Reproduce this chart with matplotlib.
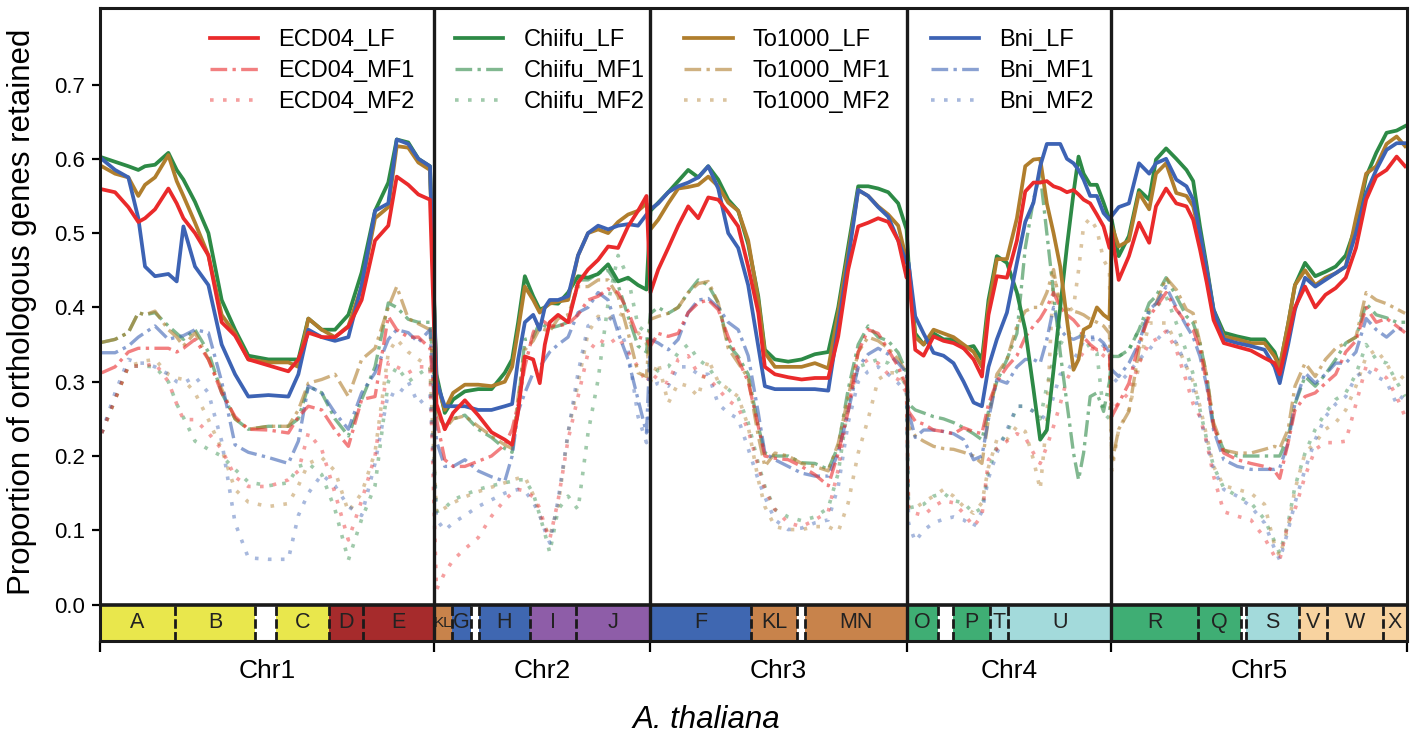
import numpy as np
import matplotlib
matplotlib.use('Agg')
import matplotlib.pyplot as plt
from matplotlib.patches import Rectangle

plt.rcParams['font.family'] = ['Liberation Sans', 'DejaVu Sans']

# chromosome names and lengths (Mb)
CHR_NAMES = ['Chr1', 'Chr2', 'Chr3', 'Chr4', 'Chr5']
CHR_LEN = [30.43, 19.70, 23.46, 18.59, 26.98]

# window positions inside each chromosome (Mb)
POS = [
    [0.15, 1.37, 2.58, 3.49, 4.10, 5.01, 6.23, 6.99, 7.60, 8.66, 9.88, 11.09, 12.31, 13.52,
     15.35, 17.17, 18.08, 18.99, 20.21, 21.42, 22.64, 23.85, 25.07, 26.28, 27.05, 28.10, 29.02, 30.08],
    [0.24, 1.00, 1.76, 2.83, 4.04, 5.26, 6.47, 7.14, 7.69, 8.30, 9.06, 9.66, 10.12, 10.57,
     11.33, 12.24, 13.15, 14.06, 14.98, 15.89, 16.80, 17.71, 18.62, 19.39],
    [0.05, 0.76, 1.67, 2.58, 3.49, 4.41, 5.32, 6.23, 7.14, 8.05, 8.96, 9.88, 10.48, 11.40,
     12.61, 13.83, 15.04, 16.26, 17.17, 18.08, 18.99, 19.90, 20.81, 21.73, 22.64, 23.40],
    [0.12, 0.73, 1.49, 2.40, 3.31, 4.22, 5.14, 6.05, 6.81, 7.41, 8.17, 9.09, 10.00, 10.76,
     11.51, 12.12, 12.73, 13.34, 13.95, 14.56, 15.16, 15.62, 16.08, 16.68, 17.29, 17.90, 18.44],
    [0.05, 0.69, 1.62, 2.54, 3.47, 4.09, 5.01, 5.94, 6.87, 7.48, 8.10, 8.72, 9.34, 10.27,
     11.50, 12.74, 13.98, 14.90, 15.37, 16.14, 16.76, 17.68, 18.61, 19.54, 20.47, 21.39,
     22.32, 23.25, 24.17, 25.11, 26.03, 26.80],
]

ECD04_LF = [
    [0.559, 0.555, 0.535, 0.515, 0.52, 0.532, 0.56, 0.54, 0.52, 0.50, 0.47, 0.38, 0.362, 0.33, 0.322, 0.314, 0.33, 0.366, 0.36, 0.36, 0.374, 0.41, 0.49, 0.51, 0.576, 0.565, 0.552, 0.545],
    [0.27, 0.236, 0.258, 0.275, 0.255, 0.232, 0.222, 0.215, 0.26, 0.334, 0.33, 0.298, 0.35, 0.38, 0.39, 0.38, 0.433, 0.451, 0.464, 0.482, 0.48, 0.509, 0.53, 0.55],
    [0.42, 0.451, 0.48, 0.51, 0.536, 0.52, 0.548, 0.545, 0.528, 0.509, 0.455, 0.393, 0.32, 0.31, 0.306, 0.303, 0.305, 0.305, 0.361, 0.451, 0.509, 0.514, 0.52, 0.515, 0.49, 0.44],
    [0.45, 0.343, 0.335, 0.361, 0.355, 0.352, 0.345, 0.33, 0.307, 0.39, 0.442, 0.44, 0.49, 0.556, 0.568, 0.568, 0.57, 0.563, 0.56, 0.555, 0.558, 0.552, 0.545, 0.54, 0.525, 0.509, 0.48],
    [0.50, 0.437, 0.469, 0.514, 0.487, 0.536, 0.56, 0.54, 0.536, 0.518, 0.478, 0.433, 0.383, 0.352, 0.347, 0.342, 0.332, 0.325, 0.31, 0.36, 0.40, 0.428, 0.40, 0.417, 0.426, 0.44, 0.48, 0.545, 0.576, 0.585, 0.603, 0.59],
]
Chiifu_LF = [
    [0.602, 0.596, 0.59, 0.585, 0.59, 0.592, 0.608, 0.585, 0.572, 0.542, 0.50, 0.41, 0.37, 0.335, 0.33, 0.33, 0.33, 0.385, 0.37, 0.37, 0.39, 0.447, 0.53, 0.568, 0.626, 0.622, 0.60, 0.59],
    [0.31, 0.258, 0.276, 0.287, 0.29, 0.29, 0.312, 0.33, 0.38, 0.442, 0.415, 0.397, 0.40, 0.406, 0.405, 0.42, 0.442, 0.44, 0.445, 0.458, 0.435, 0.44, 0.43, 0.424],
    [0.53, 0.541, 0.555, 0.57, 0.585, 0.575, 0.59, 0.572, 0.545, 0.53, 0.485, 0.415, 0.343, 0.33, 0.327, 0.33, 0.337, 0.34, 0.40, 0.482, 0.563, 0.563, 0.56, 0.555, 0.54, 0.505],
    [0.46, 0.365, 0.35, 0.365, 0.357, 0.357, 0.345, 0.348, 0.33, 0.41, 0.469, 0.46, 0.42, 0.37, 0.29, 0.222, 0.235, 0.316, 0.40, 0.482, 0.554, 0.603, 0.58, 0.565, 0.565, 0.541, 0.518],
    [0.518, 0.469, 0.496, 0.558, 0.545, 0.599, 0.614, 0.60, 0.585, 0.57, 0.509, 0.455, 0.397, 0.366, 0.361, 0.357, 0.357, 0.34, 0.32, 0.378, 0.43, 0.46, 0.442, 0.448, 0.455, 0.47, 0.51, 0.576, 0.608, 0.635, 0.638, 0.644],
]
To1000_LF = [
    [0.59, 0.58, 0.575, 0.55, 0.565, 0.575, 0.605, 0.57, 0.55, 0.514, 0.47, 0.39, 0.365, 0.33, 0.326, 0.326, 0.32, 0.385, 0.37, 0.36, 0.375, 0.428, 0.52, 0.535, 0.617, 0.615, 0.595, 0.585],
    [0.30, 0.262, 0.285, 0.296, 0.296, 0.294, 0.30, 0.32, 0.37, 0.428, 0.41, 0.393, 0.40, 0.405, 0.408, 0.41, 0.47, 0.50, 0.505, 0.50, 0.515, 0.525, 0.53, 0.54],
    [0.505, 0.518, 0.54, 0.56, 0.562, 0.565, 0.576, 0.563, 0.541, 0.53, 0.49, 0.41, 0.339, 0.32, 0.32, 0.32, 0.325, 0.318, 0.393, 0.473, 0.558, 0.55, 0.536, 0.525, 0.51, 0.464],
    [0.45, 0.36, 0.35, 0.37, 0.365, 0.36, 0.35, 0.34, 0.32, 0.40, 0.465, 0.465, 0.52, 0.59, 0.599, 0.60, 0.54, 0.50, 0.455, 0.384, 0.316, 0.33, 0.37, 0.375, 0.40, 0.39, 0.384],
    [0.51, 0.482, 0.49, 0.554, 0.532, 0.58, 0.594, 0.554, 0.55, 0.536, 0.496, 0.45, 0.393, 0.361, 0.357, 0.352, 0.352, 0.334, 0.32, 0.378, 0.43, 0.45, 0.43, 0.44, 0.446, 0.455, 0.52, 0.58, 0.59, 0.62, 0.63, 0.617],
]
Bni_LF = [
    [0.60, 0.585, 0.575, 0.52, 0.455, 0.442, 0.445, 0.435, 0.509, 0.455, 0.43, 0.35, 0.31, 0.28, 0.282, 0.28, 0.31, 0.37, 0.36, 0.355, 0.36, 0.43, 0.53, 0.54, 0.626, 0.62, 0.60, 0.59],
    [0.30, 0.267, 0.267, 0.267, 0.262, 0.262, 0.267, 0.27, 0.33, 0.38, 0.39, 0.37, 0.40, 0.41, 0.41, 0.415, 0.47, 0.50, 0.51, 0.505, 0.51, 0.512, 0.51, 0.525],
    [0.532, 0.54, 0.555, 0.563, 0.568, 0.575, 0.59, 0.56, 0.50, 0.48, 0.43, 0.348, 0.294, 0.29, 0.29, 0.29, 0.29, 0.288, 0.375, 0.464, 0.558, 0.55, 0.535, 0.522, 0.49, 0.46],
    [0.46, 0.388, 0.365, 0.339, 0.335, 0.325, 0.30, 0.272, 0.267, 0.32, 0.357, 0.393, 0.46, 0.515, 0.541, 0.59, 0.62, 0.62, 0.62, 0.60, 0.594, 0.585, 0.572, 0.55, 0.55, 0.527, 0.518],
    [0.523, 0.535, 0.54, 0.594, 0.58, 0.594, 0.60, 0.572, 0.563, 0.545, 0.50, 0.45, 0.397, 0.357, 0.352, 0.348, 0.343, 0.32, 0.298, 0.35, 0.397, 0.44, 0.428, 0.437, 0.446, 0.455, 0.50, 0.554, 0.585, 0.612, 0.621, 0.621],
]
ECD04_MF1 = [
    [0.312, 0.32, 0.34, 0.345, 0.345, 0.345, 0.345, 0.34, 0.345, 0.357, 0.33, 0.285, 0.253, 0.236, 0.235, 0.231, 0.253, 0.267, 0.262, 0.235, 0.213, 0.276, 0.28, 0.388, 0.37, 0.36, 0.36, 0.345],
    [0.25, 0.195, 0.186, 0.186, 0.193, 0.2, 0.215, 0.236, 0.27, 0.32, 0.366, 0.385, 0.38, 0.375, 0.375, 0.378, 0.39, 0.41, 0.415, 0.425, 0.42, 0.395, 0.36, 0.357],
    [0.348, 0.365, 0.361, 0.365, 0.393, 0.406, 0.41, 0.397, 0.36, 0.33, 0.30, 0.24, 0.2, 0.197, 0.195, 0.186, 0.175, 0.16, 0.204, 0.26, 0.34, 0.37, 0.365, 0.343, 0.32, 0.294],
    [0.26, 0.247, 0.243, 0.235, 0.233, 0.23, 0.238, 0.233, 0.23, 0.27, 0.30, 0.32, 0.335, 0.36, 0.375, 0.385, 0.40, 0.42, 0.40, 0.39, 0.383, 0.375, 0.36, 0.35, 0.343, 0.345, 0.337],
    [0.253, 0.271, 0.298, 0.352, 0.388, 0.40, 0.42, 0.397, 0.379, 0.37, 0.343, 0.298, 0.24, 0.204, 0.195, 0.19, 0.186, 0.18, 0.17, 0.218, 0.262, 0.28, 0.285, 0.298, 0.31, 0.34, 0.355, 0.40, 0.38, 0.385, 0.375, 0.366],
]
Chiifu_MF1 = [
    [0.353, 0.357, 0.366, 0.393, 0.39, 0.393, 0.375, 0.365, 0.357, 0.37, 0.34, 0.285, 0.25, 0.236, 0.24, 0.24, 0.25, 0.294, 0.285, 0.25, 0.227, 0.276, 0.32, 0.406, 0.40, 0.384, 0.38, 0.38],
    [0.26, 0.24, 0.25, 0.255, 0.236, 0.225, 0.21, 0.205, 0.27, 0.357, 0.36, 0.38, 0.375, 0.372, 0.375, 0.38, 0.437, 0.437, 0.446, 0.45, 0.43, 0.388, 0.348, 0.34],
    [0.392, 0.40, 0.392, 0.40, 0.42, 0.437, 0.43, 0.406, 0.35, 0.334, 0.31, 0.24, 0.204, 0.2, 0.2, 0.191, 0.19, 0.182, 0.213, 0.29, 0.35, 0.375, 0.36, 0.355, 0.339, 0.312],
    [0.27, 0.262, 0.258, 0.253, 0.25, 0.245, 0.238, 0.23, 0.222, 0.26, 0.30, 0.33, 0.365, 0.48, 0.545, 0.58, 0.50, 0.42, 0.339, 0.271, 0.204, 0.168, 0.204, 0.28, 0.285, 0.26, 0.30],
    [0.334, 0.334, 0.343, 0.37, 0.406, 0.415, 0.44, 0.415, 0.388, 0.379, 0.352, 0.307, 0.24, 0.208, 0.2, 0.2, 0.2, 0.2, 0.2, 0.226, 0.27, 0.307, 0.294, 0.31, 0.33, 0.352, 0.36, 0.405, 0.39, 0.386, 0.38, 0.38],
]
To1000_MF1 = [
    [0.353, 0.357, 0.366, 0.393, 0.39, 0.395, 0.37, 0.36, 0.348, 0.366, 0.33, 0.29, 0.25, 0.236, 0.24, 0.24, 0.262, 0.298, 0.303, 0.31, 0.28, 0.33, 0.345, 0.40, 0.428, 0.385, 0.378, 0.37],
    [0.26, 0.236, 0.25, 0.254, 0.24, 0.227, 0.215, 0.21, 0.28, 0.343, 0.355, 0.372, 0.37, 0.368, 0.385, 0.39, 0.428, 0.428, 0.437, 0.437, 0.415, 0.366, 0.312, 0.307],
    [0.384, 0.388, 0.392, 0.40, 0.42, 0.432, 0.435, 0.406, 0.345, 0.325, 0.305, 0.227, 0.186, 0.204, 0.2, 0.19, 0.186, 0.18, 0.217, 0.28, 0.34, 0.36, 0.355, 0.345, 0.33, 0.312],
    [0.24, 0.227, 0.22, 0.213, 0.21, 0.209, 0.205, 0.2, 0.19, 0.25, 0.31, 0.33, 0.375, 0.395, 0.40, 0.40, 0.42, 0.451, 0.40, 0.398, 0.395, 0.393, 0.39, 0.384, 0.38, 0.375, 0.365],
    [0.19, 0.236, 0.26, 0.343, 0.397, 0.405, 0.44, 0.424, 0.397, 0.392, 0.352, 0.307, 0.245, 0.208, 0.204, 0.204, 0.209, 0.213, 0.21, 0.236, 0.294, 0.325, 0.307, 0.33, 0.345, 0.352, 0.36, 0.42, 0.41, 0.405, 0.398, 0.392],
]
Bni_MF1 = [
    [0.339, 0.339, 0.348, 0.36, 0.366, 0.375, 0.357, 0.36, 0.362, 0.37, 0.366, 0.30, 0.215, 0.205, 0.198, 0.19, 0.22, 0.294, 0.285, 0.258, 0.236, 0.285, 0.312, 0.357, 0.37, 0.366, 0.353, 0.37],
    [0.22, 0.186, 0.186, 0.195, 0.18, 0.172, 0.166, 0.20, 0.26, 0.285, 0.312, 0.32, 0.33, 0.34, 0.35, 0.36, 0.393, 0.40, 0.42, 0.41, 0.366, 0.33, 0.276, 0.231],
    [0.357, 0.352, 0.343, 0.357, 0.393, 0.41, 0.412, 0.40, 0.38, 0.37, 0.335, 0.258, 0.204, 0.195, 0.186, 0.177, 0.173, 0.173, 0.204, 0.26, 0.32, 0.337, 0.345, 0.337, 0.325, 0.312],
    [0.26, 0.225, 0.235, 0.235, 0.233, 0.23, 0.222, 0.195, 0.2, 0.25, 0.303, 0.298, 0.32, 0.33, 0.33, 0.325, 0.357, 0.40, 0.37, 0.36, 0.357, 0.36, 0.361, 0.36, 0.36, 0.352, 0.339],
    [0.316, 0.307, 0.325, 0.352, 0.397, 0.405, 0.428, 0.40, 0.375, 0.36, 0.334, 0.294, 0.235, 0.195, 0.186, 0.182, 0.182, 0.182, 0.184, 0.218, 0.271, 0.312, 0.298, 0.31, 0.325, 0.325, 0.34, 0.385, 0.37, 0.36, 0.372, 0.37],
]
ECD04_MF2 = [
    [0.231, 0.276, 0.321, 0.321, 0.321, 0.325, 0.30, 0.27, 0.249, 0.249, 0.231, 0.209, 0.172, 0.159, 0.159, 0.168, 0.18, 0.231, 0.209, 0.15, 0.087, 0.14, 0.20, 0.326, 0.32, 0.312, 0.32, 0.32],
    [0.02, 0.043, 0.06, 0.075, 0.09, 0.119, 0.141, 0.15, 0.155, 0.153, 0.145, 0.13, 0.105, 0.088, 0.14, 0.222, 0.28, 0.339, 0.357, 0.35, 0.36, 0.34, 0.32, 0.298],
    [0.312, 0.303, 0.298, 0.33, 0.335, 0.31, 0.305, 0.29, 0.275, 0.265, 0.235, 0.186, 0.155, 0.128, 0.11, 0.105, 0.114, 0.125, 0.182, 0.27, 0.32, 0.33, 0.325, 0.31, 0.303, 0.285],
    [0.128, 0.123, 0.12, 0.132, 0.14, 0.137, 0.123, 0.105, 0.12, 0.195, 0.21, 0.22, 0.23, 0.225, 0.204, 0.19, 0.213, 0.24, 0.27, 0.303, 0.32, 0.33, 0.34, 0.345, 0.343, 0.335, 0.33],
    [0.262, 0.271, 0.285, 0.325, 0.352, 0.357, 0.368, 0.343, 0.30, 0.27, 0.253, 0.218, 0.173, 0.125, 0.119, 0.114, 0.09, 0.065, 0.06, 0.11, 0.128, 0.173, 0.209, 0.218, 0.218, 0.22, 0.27, 0.321, 0.316, 0.305, 0.28, 0.253],
]
Chiifu_MF2 = [
    [0.231, 0.276, 0.321, 0.321, 0.321, 0.32, 0.30, 0.27, 0.252, 0.22, 0.209, 0.20, 0.182, 0.165, 0.16, 0.164, 0.186, 0.19, 0.175, 0.128, 0.06, 0.115, 0.16, 0.30, 0.32, 0.30, 0.31, 0.32],
    [0.125, 0.13, 0.141, 0.148, 0.155, 0.16, 0.164, 0.166, 0.168, 0.168, 0.15, 0.12, 0.096, 0.07, 0.128, 0.146, 0.128, 0.231, 0.303, 0.406, 0.47, 0.44, 0.375, 0.366],
    [0.303, 0.316, 0.32, 0.339, 0.35, 0.33, 0.32, 0.30, 0.29, 0.278, 0.245, 0.19, 0.159, 0.128, 0.118, 0.113, 0.118, 0.13, 0.177, 0.27, 0.32, 0.325, 0.33, 0.325, 0.312, 0.294],
    [0.13, 0.132, 0.135, 0.146, 0.15, 0.14, 0.137, 0.123, 0.13, 0.18, 0.213, 0.23, 0.267, 0.267, 0.26, 0.25, 0.294, 0.33, 0.35, 0.365, 0.368, 0.365, 0.36, 0.345, 0.339, 0.258, 0.25],
    [0.338, 0.334, 0.343, 0.37, 0.393, 0.40, 0.415, 0.379, 0.34, 0.31, 0.262, 0.222, 0.186, 0.157, 0.146, 0.137, 0.115, 0.085, 0.069, 0.11, 0.159, 0.204, 0.236, 0.258, 0.276, 0.285, 0.31, 0.35, 0.33, 0.325, 0.30, 0.28],
]
To1000_MF2 = [
    [0.231, 0.276, 0.321, 0.325, 0.328, 0.33, 0.31, 0.305, 0.303, 0.285, 0.249, 0.209, 0.155, 0.138, 0.132, 0.136, 0.16, 0.19, 0.198, 0.18, 0.125, 0.15, 0.205, 0.339, 0.357, 0.34, 0.33, 0.32],
    [0.123, 0.13, 0.137, 0.145, 0.152, 0.158, 0.164, 0.168, 0.17, 0.172, 0.148, 0.12, 0.105, 0.092, 0.133, 0.231, 0.298, 0.366, 0.388, 0.384, 0.393, 0.384, 0.366, 0.352],
    [0.30, 0.326, 0.271, 0.298, 0.294, 0.28, 0.33, 0.30, 0.29, 0.28, 0.24, 0.168, 0.132, 0.105, 0.101, 0.101, 0.105, 0.105, 0.098, 0.137, 0.204, 0.25, 0.303, 0.312, 0.312, 0.294],
    [0.13, 0.13, 0.138, 0.146, 0.155, 0.146, 0.132, 0.123, 0.137, 0.185, 0.222, 0.222, 0.24, 0.233, 0.195, 0.155, 0.25, 0.446, 0.40, 0.393, 0.40, 0.45, 0.51, 0.52, 0.505, 0.464, 0.45],
    [0.18, 0.236, 0.262, 0.321, 0.379, 0.379, 0.379, 0.352, 0.32, 0.30, 0.267, 0.226, 0.186, 0.16, 0.155, 0.15, 0.135, 0.08, 0.065, 0.105, 0.155, 0.204, 0.218, 0.236, 0.245, 0.262, 0.294, 0.334, 0.343, 0.325, 0.298, 0.31],
]
Bni_MF2 = [
    [0.231, 0.285, 0.33, 0.325, 0.325, 0.32, 0.31, 0.30, 0.298, 0.307, 0.285, 0.22, 0.11, 0.063, 0.061, 0.061, 0.12, 0.15, 0.175, 0.16, 0.132, 0.12, 0.19, 0.285, 0.28, 0.30, 0.27, 0.283],
    [0.115, 0.10, 0.11, 0.12, 0.132, 0.141, 0.15, 0.153, 0.155, 0.153, 0.138, 0.12, 0.10, 0.083, 0.141, 0.231, 0.312, 0.375, 0.384, 0.388, 0.375, 0.343, 0.253, 0.218],
    [0.294, 0.298, 0.294, 0.32, 0.32, 0.31, 0.31, 0.27, 0.258, 0.25, 0.21, 0.168, 0.145, 0.114, 0.101, 0.103, 0.11, 0.114, 0.159, 0.245, 0.30, 0.314, 0.32, 0.31, 0.298, 0.285],
    [0.11, 0.085, 0.10, 0.11, 0.115, 0.118, 0.114, 0.105, 0.125, 0.17, 0.204, 0.235, 0.267, 0.267, 0.26, 0.255, 0.249, 0.28, 0.31, 0.312, 0.33, 0.34, 0.355, 0.357, 0.357, 0.348, 0.339],
    [0.307, 0.298, 0.312, 0.33, 0.343, 0.355, 0.37, 0.352, 0.32, 0.29, 0.253, 0.218, 0.182, 0.155, 0.146, 0.132, 0.11, 0.075, 0.06, 0.10, 0.137, 0.182, 0.222, 0.253, 0.27, 0.28, 0.307, 0.316, 0.307, 0.30, 0.27, 0.285],
]

# ancestral karyotype blocks along A. thaliana (chromosome index, label, start, end, colour key)
BLOCK_CHR = [0, 0, 0, 0, 0,
             1, 1, 1, 1, 1,
             2, 2, 2,
             3, 3, 3, 3,
             4, 4, 4, 4, 4, 4]
BLOCK_LABEL = ['A', 'B', 'C', 'D', 'E',
               'KL', 'G', 'H', 'I', 'J',
               'F', 'KL', 'MN',
               'O', 'P', 'T', 'U',
               'R', 'Q', 'S', 'V', 'W', 'X']
BLOCK_START = [0.0, 6.84, 16.04, 20.88, 23.98,
               0.0, 1.64, 4.10, 8.75, 12.94,
               0.0, 9.21, 14.13,
               0.0, 4.19, 7.57, 9.21,
               0.0, 7.93, 12.31, 17.14, 19.69, 24.80]
BLOCK_END = [6.84, 14.13, 20.88, 23.98, 30.43,
             1.64, 3.37, 8.75, 12.94, 19.70,
             9.21, 13.40, 23.46,
             2.83, 7.57, 9.21, 18.59,
             7.93, 11.85, 17.14, 19.69, 24.80, 26.98]
BLOCK_KEY = ['yel', 'yel', 'yel', 'red', 'red',
             'ora', 'blu', 'blu', 'pur', 'pur',
             'blu', 'ora', 'ora',
             'grn', 'grn', 'cya', 'cya',
             'grn', 'grn', 'cya', 'pea', 'pea', 'pea']

block_colors = {'yel': '#E9E74C', 'red': '#A62B2C', 'ora': '#C8834B', 'blu': '#3F67B1',
                'pur': '#8E5DA8', 'grn': '#3FAE74', 'cya': '#A3DADB', 'pea': '#F8D3A0'}

genomes = ['ECD04', 'Chiifu', 'To1000', 'Bni']
colors = {'ECD04': '#EA2A2B', 'Chiifu': '#2D8A46', 'To1000': '#B07E2D', 'Bni': '#3D63B4'}
series = {
    ('ECD04', 'LF'): ECD04_LF, ('ECD04', 'MF1'): ECD04_MF1, ('ECD04', 'MF2'): ECD04_MF2,
    ('Chiifu', 'LF'): Chiifu_LF, ('Chiifu', 'MF1'): Chiifu_MF1, ('Chiifu', 'MF2'): Chiifu_MF2,
    ('To1000', 'LF'): To1000_LF, ('To1000', 'MF1'): To1000_MF1, ('To1000', 'MF2'): To1000_MF2,
    ('Bni', 'LF'): Bni_LF, ('Bni', 'MF1'): Bni_MF1, ('Bni', 'MF2'): Bni_MF2,
}
styles = {'LF': dict(ls='-', alpha=1.0, lw=2.7),
          'MF1': dict(ls=(0, (5, 1.6, 1, 1.6)), alpha=0.6, lw=2.4),
          'MF2': dict(ls=(0, (1, 2.6)), alpha=0.45, lw=2.6)}

offsets = np.concatenate([[0.], np.cumsum(CHR_LEN)])
x = np.concatenate([np.array(p) + offsets[i] for i, p in enumerate(POS)])

fig = plt.figure(figsize=(14.13, 7.38), dpi=100)
ax = fig.add_axes([0.0708, 0.1314, 0.9250, 0.8578])
ymin, ymax = -0.049, 0.803

handles = {}
for frac, z in [('MF2', 2), ('MF1', 3), ('LF', 4)]:
    for g in ['Chiifu', 'To1000', 'Bni', 'ECD04']:
        y = np.concatenate([np.array(c) for c in series[(g, frac)]])
        st = styles[frac]
        line, = ax.plot(x, y, color=colors[g], ls=st['ls'], lw=st['lw'],
                        alpha=st['alpha'], zorder=z, label=f'{g}_{frac}')
        handles[(g, frac)] = line

# block band under the curves
for c, lab, s, e, k in zip(BLOCK_CHR, BLOCK_LABEL, BLOCK_START, BLOCK_END, BLOCK_KEY):
    x0 = offsets[c] + s
    x1 = offsets[c] + e
    ax.add_patch(Rectangle((x0, ymin), x1 - x0, -ymin, facecolor=block_colors[k],
                           edgecolor='none', zorder=5))
    fs = 11 if (c == 1 and lab == 'KL') else 15.5
    ax.text((x0 + x1) / 2, ymin / 2, lab, ha='center', va='center', fontsize=fs,
            color='#222222', zorder=7)
seps = set()
for c, s, e in zip(BLOCK_CHR, BLOCK_START, BLOCK_END):
    for b in (s, e):
        if 0.01 < b < CHR_LEN[c] - 0.01:
            seps.add(round(offsets[c] + b, 3))
for b in sorted(seps):
    ax.plot([b, b], [ymin, 0], color='#1a1a1a', lw=2.0, ls=(0, (3.4, 1.2)), zorder=6)
ax.axhline(0, color='#1a1a1a', lw=2.6, zorder=8)

for b in offsets[1:-1]:
    ax.axvline(b, color='#1a1a1a', lw=2.4, zorder=9)

ax.set_xlim(0, offsets[-1])
ax.set_ylim(ymin, ymax)
ax.set_yticks(np.arange(0, 0.71, 0.1))
ax.set_yticklabels([f'{v:.1f}' for v in np.arange(0, 0.71, 0.1)])
ax.set_xticks(offsets)
ax.set_xticklabels([])
ax.set_xticks((offsets[:-1] + offsets[1:]) / 2, minor=True)
ax.set_xticklabels(CHR_NAMES, minor=True)
ax.tick_params(axis='x', which='major', length=8, width=1.6, direction='out')
ax.tick_params(axis='x', which='minor', length=0, pad=13, labelsize=19)
ax.tick_params(axis='y', length=6, width=1.6, direction='out', labelsize=16, pad=5)
for sp in ax.spines.values():
    sp.set_linewidth(2.2)
    sp.set_color('#1a1a1a')
    sp.set_zorder(10)

order = [handles[(g, f)] for g in genomes for f in ['LF', 'MF1', 'MF2']]
ax.legend(handles=order, labels=[h.get_label() for h in order], ncol=4, frameon=False,
          loc='upper left', bbox_to_anchor=(0.084, 0.967), fontsize=17,
          handlelength=2.05, handletextpad=0.85, columnspacing=1.7, labelspacing=0.39,
          borderpad=0, borderaxespad=0)

fig.text(0.0156, 0.577, 'Proportion of orthologous genes retained', rotation=90,
         ha='center', va='center', fontsize=22.5)
fig.text(0.5, 0.025, 'A. thaliana', style='italic', ha='center', va='center', fontsize=22.5)

fig.savefig('out.png', dpi=100)
